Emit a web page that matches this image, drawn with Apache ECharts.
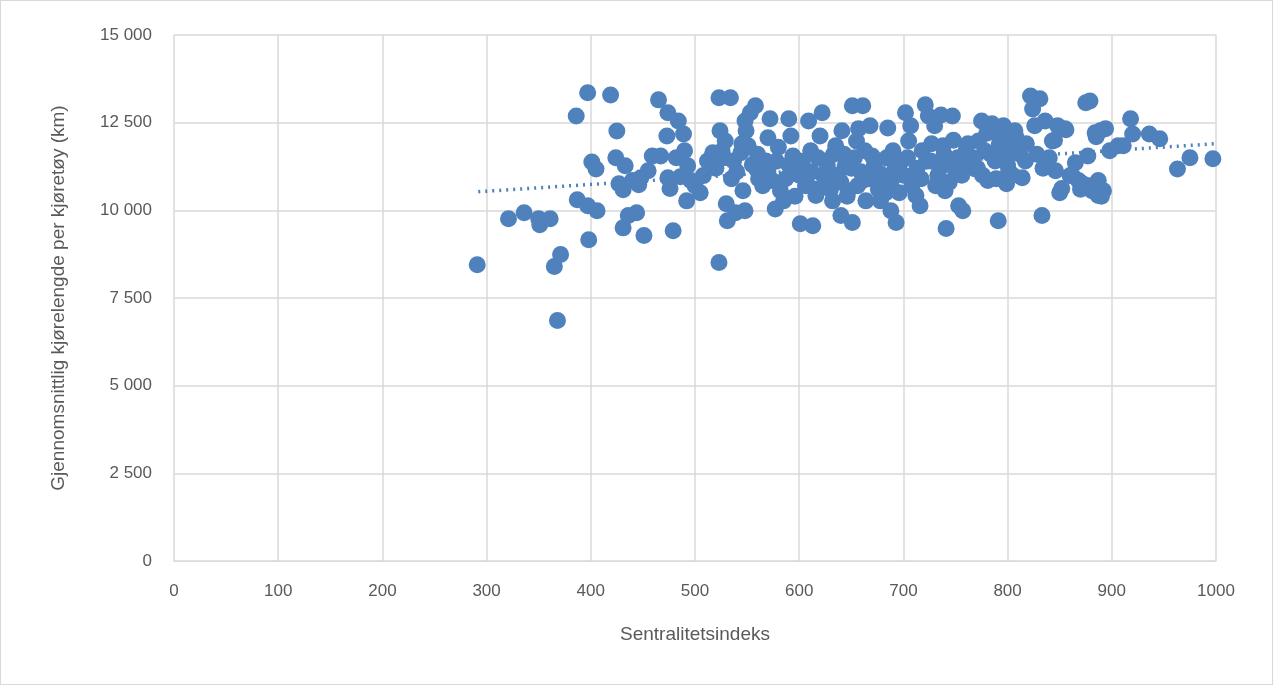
<!DOCTYPE html>
<html>
<head>
<meta charset="utf-8">
<script src="https://cdn.jsdelivr.net/npm/echarts@6/dist/echarts.min.js"></script>
<style>
html,body{margin:0;padding:0;background:#fff}
#chart{width:1271px;height:683px;border:1px solid #d9d9d9}
</style>
</head>
<body>
<div id="chart"></div>
<script>
// sentralitetsindeks, kjørelengde (km)
const points = [
    [291,8450],[321,9760],[336,9930],[350,9760],[351,9590],[361,9760],[365,8400],[371,8740],[368,6860],
    [387,10300],[386,12690],[397,13350],[397,10130],[398,9160],[401,11380],[405,11180],[406,9990],
    [419,13290],[425,12260],[424,11500],[427,10760],[431,9500],[431,10590],[433,11270],[436,9850],
    [440,10850],[444,9930],[446,10730],[448,10930],[451,9280],[455,11130],[459,11550],[465,13150],
    [467,11550],[474,12780],[473,12120],[474,10930],[476,10620],[479,9420],[484,12550],[482,11500],
    [486,10960],[489,12180],[490,11700],[492,10270],[493,11270],[496,10850],[500,10700],[505,10500],
    [508,10990],[512,11410],[517,11640],[523,13210],[523,8510],[524,12270],[526,11700],[529,11980],
    [530,10190],[531,9700],[534,13210],[537,11410],[539,9930],[544,11640],[546,10560],[548,12550],
    [549,12270],[551,11840],[548,9990],[553,12780],[558,12980],[559,11180],[561,10900],[568,11410],
    [570,12070],[572,12610],[574,10850],[577,10040],[582,10560],[585,10270],[590,12610],[592,12120],
    [594,11550],[598,11130],[601,9620],[606,10700],[609,12550],[611,11700],[613,9560],[616,10420],
    [620,12120],[622,12780],[625,11410],[628,10850],[632,10270],[635,11840],[640,9850],[641,12270],
    [644,11270],[647,10560],[651,12980],[651,9650],[655,11980],[657,12330],[661,12980],[661,10850],
    [664,10270],[668,12410],[670,11550],[674,11130],[678,10270],[683,10500],[685,12350],[688,9990],
    [690,11700],[693,9650],[697,11360],[702,12780],[705,11980],[707,12410],[709,10990],[712,10420],
    [716,10130],[718,11700],[721,13010],[724,12690],[726,11410],[730,12410],[733,10990],[736,12720],
    [738,11840],[740,10560],[741,9480],[745,11360],[747,12690],[750,11130],[753,10130],[757,9990],
    [760,11700],[764,11270],[769,11180],[772,11980],[775,12550],[778,11700],[781,10850],[785,12470],
    [788,11410],[791,9700],[793,12120],[796,12410],[799,10760],[801,11130],[804,11840],[807,12270],
    [810,11700],[814,10930],[817,11410],[822,13260],[824,12890],[826,12410],[831,13180],[833,9850],
    [836,12550],[839,11270],[843,11980],[846,11130],[848,12410],[852,10620],[855,12330],[860,10990],
    [865,11360],[868,10850],[872,10760],[875,13070],[877,11550],[879,13120],[881,10560],[884,12210],
    [887,10850],[889,12270],[887,10420],[892,10560],[894,12330],[898,11700],[906,11840],[911,11840],
    [918,12610],[920,12180],[936,12180],[946,12040],[963,11180],[975,11500],[997,11470],
    [520,11200],[528,11500],[535,10900],[540,11100],[545,11900],[555,11300],[560,11600],[565,10700],
    [570,11100],[578,11400],[580,11800],[587,10900],[590,11300],[596,10400],[600,11000],[603,11400],
    [607,10800],[612,11100],[615,10600],[618,11500],[623,11000],[627,11300],[630,10600],[633,11600],
    [637,11000],[640,10800],[643,11600],[646,10400],[650,11200],[653,11500],[656,10700],[659,11100],
    [663,11700],[667,10900],[672,11300],[676,10600],[680,11000],[684,11500],[688,10800],[692,11200],
    [696,10500],[700,11000],[704,11500],[708,10700],[713,11200],[717,10900],[722,11400],[727,11900],
    [731,10700],[735,11200],[739,11600],[744,10800],[748,12000],[752,11500],[756,11000],[762,11900],
    [767,11500],[771,11200],[776,11000],[780,12200],[784,11600],[789,10900],[792,11900],[797,11500],
    [800,11300],[805,11000],[808,12100],[812,11600],[818,11900],[828,11600],[834,11200],[840,11500],
    [845,12000],[850,10500],[856,12300],[862,11000],[870,10600],[878,10700],[885,12100],[890,10400]
];
const trend = [[292,10530],[1000,11900]];
const xTicks = [0,100,200,300,400,500,600,700,800,900,1000];

const fmt = v => String(v).replace(/\B(?=(\d{3})+(?!\d))/g, ' ');
const txt = {color: '#595959', fontSize: 17, fontFamily: 'Liberation Sans'};

let chart = echarts.init(document.getElementById('chart'));
chart.setOption({
    animation: false,
    grid: {left: 173, right: 56, top: 34, bottom: 123},
    xAxis: {
        type: 'value', min: xTicks[0], max: xTicks[xTicks.length - 1], interval: 100,
        name: 'Sentralitetsindeks', nameLocation: 'middle', nameGap: 64,
        nameTextStyle: Object.assign({}, txt, {fontSize: 19}),
        axisLine: {show: true, lineStyle: {color: '#d9d9d9'}},
        axisTick: {show: false},
        axisLabel: Object.assign({margin: 22, formatter: v => String(v)}, txt),
        splitLine: {show: true, lineStyle: {color: '#d9d9d9', width: 1.5}}
    },
    yAxis: {
        type: 'value', min: 0, max: 15000, interval: 2500,
        name: 'Gjennomsnittlig kjørelengde per kjøretøy (km)', nameLocation: 'middle', nameGap: 106,
        nameTextStyle: Object.assign({}, txt, {fontSize: 19}),
        axisLine: {show: false},
        axisTick: {show: false},
        axisLabel: Object.assign({margin: 22, formatter: fmt}, txt),
        splitLine: {lineStyle: {color: '#d9d9d9', width: 1.5}}
    },
    series: [{
        type: 'scatter',
        data: points,
        symbolSize: 17,
        itemStyle: {color: '#4f81bd', opacity: 1}
    }, {
        type: 'line',
        data: trend,
        symbol: 'none',
        z: 3,
        lineStyle: {color: '#4f81bd', width: 3.5, type: [2, 5]}
    }]
});
</script>
</body>
</html>
